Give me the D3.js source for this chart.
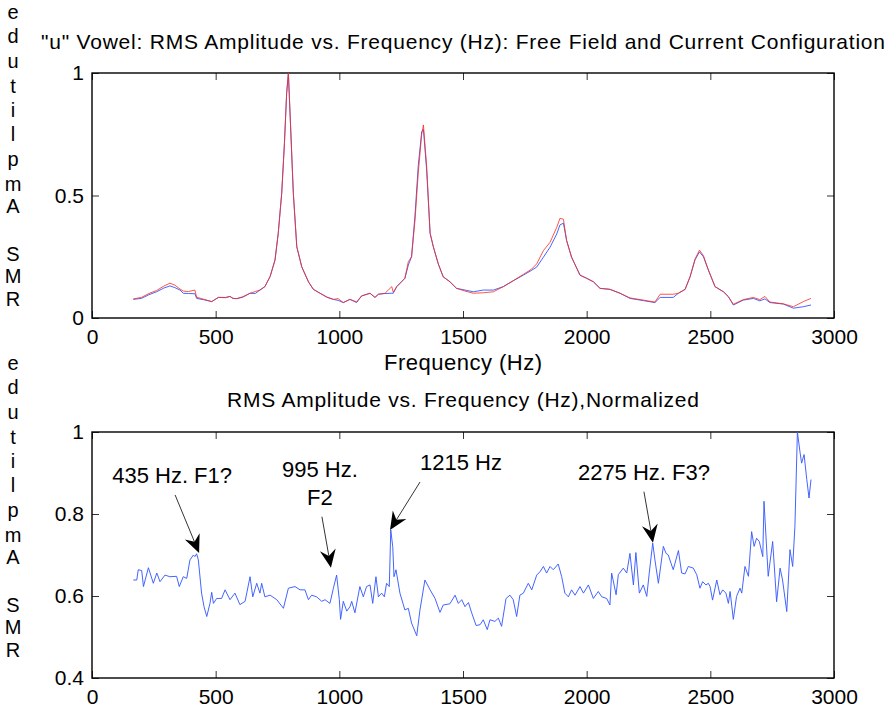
<!DOCTYPE html>
<html>
<head>
<meta charset="utf-8">
<script src="https://cdn.jsdelivr.net/npm/d3@7"></script>
<style>
  body { margin: 0; background: #fff; }
</style>
</head>
<body>
<svg id="chart" width="887" height="717"></svg>
<script>
// top panel: RMS amplitude, two configurations
const topFreq = [167, 200, 230, 261, 290, 315, 335, 356, 369, 390, 416, 423, 450, 484, 511, 540, 558, 570, 585, 610,
  639, 660, 679, 699, 720, 740, 753, 767, 778, 787, 794, 803, 814, 828, 848, 875, 895, 922, 950, 976,
  995, 1016, 1043, 1070, 1090, 1124, 1144, 1158, 1185, 1212, 1218, 1232, 1265, 1279, 1292, 1306, 1319, 1333, 1340, 1353,
  1367, 1380, 1400, 1420, 1447, 1474, 1508, 1542, 1582, 1623, 1663, 1703, 1744, 1778, 1798, 1825, 1852, 1879, 1892, 1906,
  1919, 1939, 1973, 2000, 2027, 2054, 2094, 2135, 2175, 2229, 2276, 2297, 2350, 2371, 2398, 2418, 2438, 2456, 2472, 2492,
  2519, 2553, 2573, 2593, 2633, 2674, 2700, 2721, 2741, 2795, 2836, 2876, 2907]
const topFreeField = [0.076, 0.080, 0.095, 0.107, 0.122, 0.131, 0.124, 0.114, 0.101, 0.100, 0.099, 0.080, 0.075, 0.067, 0.084, 0.083, 0.088, 0.080, 0.079, 0.085,
  0.101, 0.100, 0.114, 0.128, 0.169, 0.237, 0.346, 0.509, 0.713, 0.917, 1.000, 0.781, 0.509, 0.291, 0.209, 0.148, 0.117, 0.101, 0.085, 0.076,
  0.072, 0.063, 0.076, 0.063, 0.090, 0.101, 0.084, 0.097, 0.100, 0.101, 0.101, 0.128, 0.162, 0.216, 0.250, 0.420, 0.620, 0.760, 0.770, 0.604,
  0.346, 0.291, 0.221, 0.168, 0.148, 0.121, 0.114, 0.107, 0.114, 0.114, 0.128, 0.152, 0.175, 0.195, 0.208, 0.248, 0.289, 0.343, 0.380, 0.387,
  0.316, 0.248, 0.175, 0.162, 0.148, 0.121, 0.117, 0.101, 0.080, 0.071, 0.063, 0.084, 0.084, 0.101, 0.117, 0.168, 0.237, 0.270, 0.250, 0.196,
  0.128, 0.107, 0.087, 0.053, 0.073, 0.080, 0.070, 0.078, 0.063, 0.057, 0.040, 0.046, 0.053]
const topCurrent = [0.078, 0.084, 0.100, 0.112, 0.130, 0.142, 0.134, 0.118, 0.110, 0.108, 0.114, 0.085, 0.077, 0.067, 0.084, 0.084, 0.088, 0.080, 0.079, 0.087,
  0.101, 0.108, 0.114, 0.128, 0.169, 0.237, 0.346, 0.509, 0.713, 0.917, 1.000, 0.781, 0.509, 0.291, 0.209, 0.148, 0.117, 0.101, 0.085, 0.076,
  0.079, 0.063, 0.076, 0.066, 0.090, 0.101, 0.084, 0.097, 0.101, 0.128, 0.105, 0.128, 0.162, 0.230, 0.250, 0.400, 0.590, 0.750, 0.788, 0.620,
  0.346, 0.291, 0.221, 0.168, 0.148, 0.121, 0.110, 0.101, 0.103, 0.107, 0.128, 0.152, 0.178, 0.200, 0.221, 0.275, 0.309, 0.370, 0.407, 0.403,
  0.316, 0.248, 0.175, 0.162, 0.148, 0.121, 0.117, 0.101, 0.082, 0.073, 0.065, 0.097, 0.097, 0.101, 0.117, 0.168, 0.240, 0.277, 0.255, 0.196,
  0.128, 0.107, 0.087, 0.056, 0.075, 0.084, 0.075, 0.088, 0.065, 0.058, 0.046, 0.067, 0.080]

// bottom panel: normalized ratio
const normFreq = [167, 181, 187, 201, 208, 228, 248, 262, 275, 295, 315, 342, 353, 369, 383, 396, 410, 416, 423, 430,
  443, 453, 464, 477, 484, 491, 504, 524, 538, 558, 578, 598, 619, 639, 650, 666, 679, 686, 699, 720,
  747, 774, 794, 821, 841, 861, 875, 888, 908, 929, 942, 962, 976, 989, 1000, 1005, 1016, 1030, 1043, 1050,
  1063, 1083, 1097, 1110, 1124, 1135, 1148, 1158, 1171, 1182, 1191, 1202, 1208, 1216, 1221, 1229, 1245, 1265, 1279, 1292,
  1313, 1326, 1346, 1367, 1387, 1407, 1420, 1447, 1468, 1481, 1495, 1508, 1522, 1535, 1553, 1569, 1582, 1598, 1609, 1629,
  1643, 1656, 1674, 1690, 1703, 1717, 1730, 1744, 1764, 1778, 1798, 1811, 1825, 1838, 1852, 1865, 1885, 1899, 1912, 1926,
  1939, 1953, 1973, 1987, 2007, 2027, 2047, 2061, 2081, 2094, 2101, 2119, 2128, 2148, 2162, 2175, 2189, 2199, 2213, 2229,
  2243, 2253, 2267, 2276, 2290, 2310, 2321, 2330, 2341, 2350, 2371, 2384, 2398, 2411, 2431, 2445, 2458, 2469, 2482, 2492,
  2499, 2509, 2526, 2539, 2550, 2563, 2573, 2580, 2593, 2606, 2620, 2627, 2640, 2654, 2667, 2677, 2687, 2698, 2712, 2717,
  2734, 2752, 2768, 2782, 2792, 2809, 2822, 2833, 2842, 2852, 2863, 2869, 2879, 2890, 2899, 2907]
const normValue = [0.639, 0.639, 0.664, 0.662, 0.623, 0.669, 0.631, 0.656, 0.635, 0.651, 0.647, 0.648, 0.623, 0.647, 0.643, 0.688, 0.700, 0.696, 0.703, 0.688,
  0.607, 0.574, 0.550, 0.582, 0.609, 0.582, 0.594, 0.594, 0.615, 0.591, 0.607, 0.579, 0.587, 0.647, 0.598, 0.631, 0.607, 0.631, 0.598, 0.602,
  0.591, 0.570, 0.619, 0.623, 0.615, 0.615, 0.591, 0.602, 0.598, 0.587, 0.591, 0.582, 0.619, 0.651, 0.591, 0.543, 0.587, 0.563, 0.574, 0.587,
  0.559, 0.623, 0.598, 0.623, 0.627, 0.582, 0.647, 0.598, 0.607, 0.598, 0.631, 0.623, 0.761, 0.720, 0.647, 0.664, 0.607, 0.566, 0.570, 0.534,
  0.503, 0.566, 0.639, 0.615, 0.594, 0.560, 0.578, 0.581, 0.602, 0.582, 0.591, 0.574, 0.584, 0.559, 0.528, 0.530, 0.542, 0.518, 0.542, 0.538,
  0.546, 0.526, 0.594, 0.602, 0.591, 0.550, 0.602, 0.607, 0.631, 0.615, 0.651, 0.659, 0.672, 0.656, 0.672, 0.664, 0.678, 0.647, 0.607, 0.598,
  0.615, 0.602, 0.623, 0.607, 0.627, 0.594, 0.611, 0.598, 0.594, 0.578, 0.656, 0.603, 0.652, 0.668, 0.656, 0.704, 0.627, 0.706, 0.607, 0.627,
  0.599, 0.656, 0.729, 0.688, 0.631, 0.721, 0.704, 0.700, 0.680, 0.664, 0.711, 0.656, 0.654, 0.672, 0.668, 0.652, 0.619, 0.635, 0.627, 0.631,
  0.623, 0.590, 0.639, 0.603, 0.615, 0.607, 0.582, 0.611, 0.543, 0.599, 0.619, 0.607, 0.672, 0.648, 0.757, 0.721, 0.741, 0.733, 0.696, 0.831,
  0.648, 0.733, 0.586, 0.668, 0.639, 0.562, 0.713, 0.672, 0.770, 1.000, 0.949, 0.924, 0.945, 0.884, 0.839, 0.884]

const xTicks = [0, 500, 1000, 1500, 2000, 2500, 3000]
const topYTicks = [0, 0.5, 1]
const normYTicks = [0.4, 0.6, 0.8, 1]

const topTitle = '"u" Vowel: RMS Amplitude vs. Frequency (Hz): Free Field and Current Configuration'
const normTitle = 'RMS Amplitude vs. Frequency (Hz),Normalized'
const xLabel = 'Frequency (Hz)'
const yLabel = 'RMS Amplitude'

// arrow tips (frequency, value) and their labels
const notes = [
  { lines: ['435 Hz. F1?'], freq: 433, value: 0.705 },
  { lines: ['995 Hz.', 'F2'], freq: 966, value: 0.669 },
  { lines: ['1215 Hz'], freq: 1205, value: 0.761 },
  { lines: ['2275 Hz. F3?'], freq: 2268, value: 0.730 }
]
// where the text and the arrow tail sit, in px from the tip
const noteLayout = [
  { tx: -27, ty: -70, ax: -24, ay: -58 },
  { tx: -11, ty: -91, ax: -9, ay: -51 },
  { tx: 71, ty: -60, ax: 30, ay: -48 },
  { tx: -9, ty: -63, ax: -9, ay: -51 }
]

const FONT = '"Liberation Sans", Arial, Helvetica, sans-serif'
const svg = d3.select('#chart')

const x = d3.scaleLinear().domain([0, 3000]).range([92, 834])
const yTop = d3.scaleLinear().domain([0, 1]).range([318, 73])
const yNorm = d3.scaleLinear().domain([0.4, 1]).range([678, 432])

function frame(y, yTicks) {
  const [bottom, top] = y.range()
  const g = svg.append('g')
  g.append('g')
    .attr('transform', `translate(0,${bottom})`)
    .call(d3.axisBottom(x).tickValues(xTicks).tickSize(-7).tickPadding(11).tickFormat(d3.format('d')))
  g.append('g')
    .attr('transform', `translate(0,${top})`)
    .call(d3.axisTop(x).tickValues(xTicks).tickSize(-7).tickFormat(''))
  g.append('g')
    .attr('transform', `translate(${x.range()[0]},0)`)
    .call(d3.axisLeft(y).tickValues(yTicks).tickSize(-7).tickPadding(8).tickFormat(d3.format('~g')))
  g.append('g')
    .attr('transform', `translate(${x.range()[1]},0)`)
    .call(d3.axisRight(y).tickValues(yTicks).tickSize(-7).tickFormat(''))
  g.selectAll('.domain').remove()
  g.selectAll('.tick line').attr('stroke', '#333').attr('stroke-width', 1)
  g.selectAll('.tick text')
    .attr('font-family', FONT)
    .attr('font-size', 21)
    .attr('fill', '#000')
  g.append('rect')
    .attr('x', x.range()[0])
    .attr('y', top)
    .attr('width', x.range()[1] - x.range()[0])
    .attr('height', bottom - top)
    .attr('fill', 'none')
    .attr('stroke', '#000')
    .attr('stroke-width', 1.4)
}

function series(freqs, values, y, color, opacity) {
  const line = d3.line()
    .x(d => x(d[0]))
    .y(d => y(d[1]))
  svg.append('path')
    .datum(d3.zip(freqs, values))
    .attr('d', line)
    .attr('fill', 'none')
    .attr('stroke', color)
    .attr('stroke-width', 1)
    .attr('stroke-opacity', opacity)
    .attr('stroke-linejoin', 'round')
}

function label(text, cx, baseline, size, width) {
  const t = svg.append('text')
    .attr('x', cx)
    .attr('y', baseline)
    .attr('text-anchor', 'middle')
    .attr('font-family', FONT)
    .attr('font-size', size)
    .attr('fill', '#000')
    .text(text)
  if (width) t.attr('textLength', width).attr('lengthAdjust', 'spacing')
  return t
}

// stacked y label, one upright letter per line; "R" at the bottom, "e" on top
const letterRise = [0, 23, 45, 69, 93, 115, 140, 165, 189, 213, 238, 263, 287]
function stackedLabel(bottomCenter) {
  const chars = yLabel.split('')
  svg.append('g').selectAll('text')
    .data(chars)
    .enter()
    .append('text')
    .attr('x', 13)
    .attr('y', (d, i) => bottomCenter - letterRise[i] + 7)
    .attr('text-anchor', 'middle')
    .attr('font-family', FONT)
    .attr('font-size', 20)
    .attr('fill', '#000')
    .text(d => d)
}

const midX = (x.range()[0] + x.range()[1]) / 2

// ---- top panel
frame(yTop, topYTicks)
series(topFreq, topFreeField, yTop, '#3355ff', 0.9)
series(topFreq, topCurrent, yTop, '#ff2a1a', 0.8)
label(topTitle, midX, 49, 21, 844)
label(xLabel, midX, 370, 22, 158)
stackedLabel(299)

// ---- bottom panel
frame(yNorm, normYTicks)
series(normFreq, normValue, yNorm, '#3a5cff', 0.95)
label(normTitle, midX, 407, 21, 472)
stackedLabel(650)

// annotations
notes.forEach((n, i) => {
  const lay = noteLayout[i]
  const tipX = x(n.freq)
  const tipY = yNorm(n.value)
  n.lines.forEach((ln, j) => {
    label(ln, tipX + lay.tx, tipY + lay.ty + j * 28, 22)
  })
  const tailX = tipX + lay.ax
  const tailY = tipY + lay.ay
  const ang = Math.atan2(tipY - tailY, tipX - tailX)
  const len = 18, half = 8, notch = 6
  const ux = Math.cos(ang), uy = Math.sin(ang)
  const px = -uy, py = ux
  const bx = tipX - ux * len, by = tipY - uy * len
  const nx = tipX - ux * (len - notch), ny = tipY - uy * (len - notch)
  svg.append('line')
    .attr('x1', tailX).attr('y1', tailY)
    .attr('x2', nx).attr('y2', ny)
    .attr('stroke', '#000')
    .attr('stroke-width', 0.8)
  svg.append('path')
    .attr('d', `M${tipX},${tipY} L${bx + px * half},${by + py * half} L${nx},${ny} L${bx - px * half},${by - py * half} Z`)
    .attr('fill', '#000')
})
</script>
</body>
</html>
